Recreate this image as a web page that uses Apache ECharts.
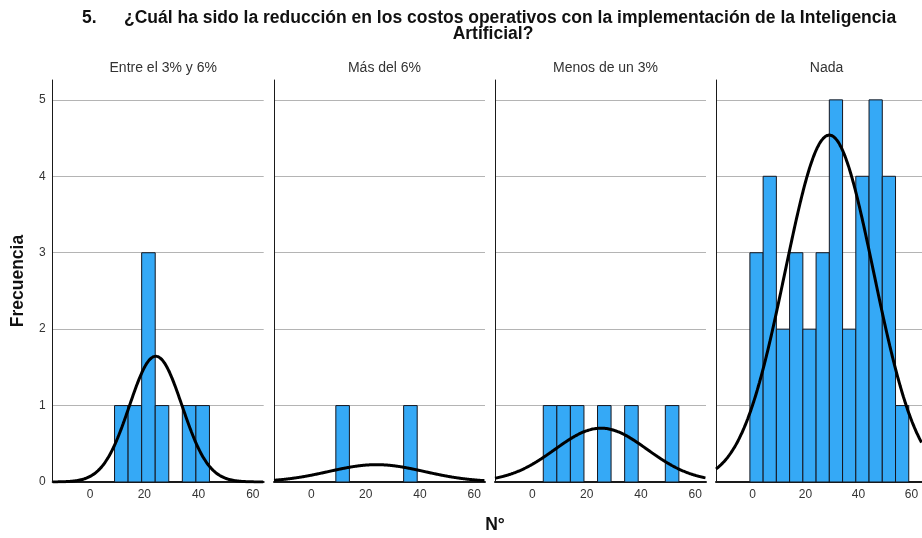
<!DOCTYPE html>
<html>
<head>
<meta charset="utf-8">
<script src="https://cdn.jsdelivr.net/npm/echarts@6/dist/echarts.min.js"></script>
<style>
  html, body { margin: 0; padding: 0; background: #fff; }
  #chart { width: 922px; height: 538px; }
</style>
</head>
<body>
<div id="chart"></div>
<script>
// Histogram of N° by answer group, with a fitted normal curve per group
const questionNumber = '5.';
const titleLine1 = '¿Cuál ha sido la reducción en los costos operativos con la implementación de la Inteligencia';
const titleLine2 = 'Artificial?';
const panelNames = ['Entre el 3% y 6%', 'Más del 6%', 'Menos de un 3%', 'Nada'];

// bins of width 5 (left edges)
const binStarts = [-1, 4, 9, 14, 19, 24, 29, 34, 39, 44, 49, 54];
const binWidth = 5;

// frequencies per bin, one list per group
const countsEntre = [0, 0, 1, 1, 3, 1, 0, 1, 1, 0, 0, 0];
const countsMas   = [0, 0, 1, 0, 0, 0, 0, 1, 0, 0, 0, 0];
const countsMenos = [0, 1, 1, 1, 0, 1, 0, 1, 0, 0, 1, 0];
const countsNada  = [3, 4, 2, 3, 2, 3, 5, 2, 4, 5, 4, 1];

// fitted normal parameters per group
const curveMean = [24.2, 24.0, 25.3, 29.0];
const curveSd   = [9.7, 17.6, 17.0, 16.7];

const xTickValues = [0, 20, 40, 60];
const yTickValues = [0, 1, 2, 3, 4, 5];

const groupCounts = [countsEntre, countsMas, countsMenos, countsNada];

const X_MIN = -13.8, X_MAX = 64;
const Y_MAX = 5.26;
const gridLefts = [52.7, 274, 495, 716];
const gridWidth = 211;
const gridTop = 80, gridHeight = 402;

const FONT = '"Liberation Sans", Arial, sans-serif';
const boldText = { fontFamily: FONT, fontSize: 17.5, fontWeight: 'bold', color: '#111', lineHeight: 15 };

function normalCurve(mean, sd, n) {
  const pts = [];
  const scale = n * binWidth / (sd * Math.sqrt(2 * Math.PI));
  for (let x = X_MIN; x <= X_MAX + 0.001; x += 0.4) {
    const z = (x - mean) / sd;
    pts.push([x, scale * Math.exp(-0.5 * z * z)]);
  }
  return pts;
}

const grids = [], xAxes = [], yAxes = [], series = [];
const titles = [
  { text: questionNumber, left: 77, top: 6, textStyle: boldText },
  { text: titleLine1, left: 119, top: 6, textStyle: boldText },
  { text: titleLine2, left: 488, top: 22, textAlign: 'center', textStyle: boldText },
  { text: 'N°', left: 490, top: 513, textAlign: 'center', textStyle: boldText }
];

panelNames.forEach((name, i) => {
  grids.push({ left: gridLefts[i], top: gridTop, width: gridWidth, height: gridHeight });
  titles.push({
    text: name, left: gridLefts[i] + gridWidth / 2, top: 56, textAlign: 'center',
    textStyle: { fontFamily: FONT, fontSize: 14, fontWeight: 'normal', color: '#333' }
  });
  xAxes.push({
    type: 'value', gridIndex: i, min: X_MIN, max: X_MAX,
    axisLine: { show: true, onZero: false, lineStyle: { color: '#1a1a1a', width: 2 } },
    axisTick: { show: false },
    splitLine: { show: false },
    axisLabel: {
      customValues: xTickValues, margin: 7,
      fontFamily: FONT, fontSize: 12, color: '#333'
    }
  });
  yAxes.push({
    type: 'value', gridIndex: i, min: 0, max: Y_MAX, interval: 1,
    name: i === 0 ? 'Frecuencia' : '',
    nameLocation: 'middle', nameGap: 26, nameRotate: 90,
    nameTextStyle: { fontFamily: FONT, fontSize: 17.5, fontWeight: 'bold', color: '#111' },
    axisLine: { show: true, onZero: false, lineStyle: { color: '#1a1a1a', width: 1 } },
    axisTick: { show: false },
    splitLine: { show: true, showMinLine: false, showMaxLine: false, lineStyle: { color: '#b4b4b4', width: 1 } },
    axisLabel: {
      show: i === 0, customValues: yTickValues, margin: 7,
      fontFamily: FONT, fontSize: 12, color: '#333'
    }
  });

  const counts = groupCounts[i];
  const bins = [];
  counts.forEach((c, k) => {
    if (c > 0) bins.push([binStarts[k], binStarts[k] + binWidth, c]);
  });
  series.push({
    type: 'custom', xAxisIndex: i, yAxisIndex: i, z: 2,
    encode: { x: [0, 1], y: 2 },
    data: bins,
    renderItem: function (params, api) {
      const p0 = api.coord([api.value(0), api.value(2)]);
      const p1 = api.coord([api.value(1), 0]);
      return {
        type: 'rect',
        shape: { x: p0[0], y: p0[1], width: p1[0] - p0[0], height: p1[1] - p0[1] },
        style: { fill: '#35a9f6', stroke: '#15161f', lineWidth: 1 }
      };
    }
  });
  const n = counts.reduce((a, b) => a + b, 0);
  series.push({
    type: 'line', xAxisIndex: i, yAxisIndex: i, z: 3,
    data: normalCurve(curveMean[i], curveSd[i], n),
    showSymbol: false, smooth: true,
    lineStyle: { color: '#000', width: 3 },
    clip: true
  });
});

const chart = echarts.init(document.getElementById('chart'), null, { renderer: 'canvas' });
chart.setOption({
  animation: false,
  backgroundColor: '#fff',
  title: titles,
  grid: grids,
  xAxis: xAxes,
  yAxis: yAxes,
  series: series
});
</script>
</body>
</html>
